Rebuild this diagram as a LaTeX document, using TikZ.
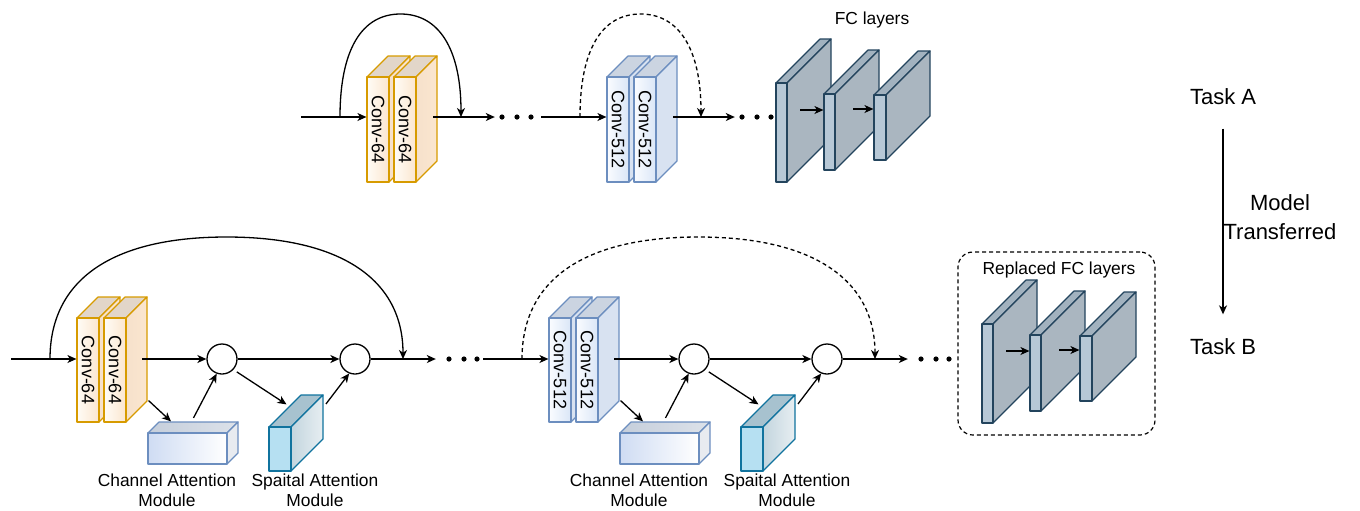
\documentclass[tikz,border=0pt]{standalone}
\usepackage{fontspec}
\setmainfont{Liberation Sans}
\usepackage{graphicx}
\usetikzlibrary{arrows.meta, calc, positioning}

\definecolor{orline}{HTML}{D79B00}
\definecolor{orlight}{HTML}{FFFCF6}
\definecolor{orfront}{HTML}{FBE6CF}
\definecolor{ortop}{HTML}{E2D6C9}
\definecolor{orside}{HTML}{F6E1CB}
\definecolor{blline}{HTML}{6C8EBF}
\definecolor{bllight}{HTML}{FAFCFF}
\definecolor{blfront}{HTML}{DAE6F7}
\definecolor{bltop}{HTML}{CBD4E1}
\definecolor{blside}{HTML}{D8E2F1}
\definecolor{camfront}{HTML}{CFDCF3}
\definecolor{camtop}{HTML}{C5CEDB}
\definecolor{camside}{HTML}{E8EBF0}
\definecolor{samline}{HTML}{10739E}
\definecolor{samfront}{HTML}{B6E0F2}
\definecolor{samtop}{HTML}{A7C2CF}
\definecolor{samside}{HTML}{C3D5DE}
\definecolor{fcline}{HTML}{23445D}
\definecolor{fcfront}{HTML}{B7C8D6}
\definecolor{fctop}{HTML}{A2B2BF}
\definecolor{fcside}{HTML}{AAB6C0}

\begin{document}
\begin{tikzpicture}[x=.5pt, y=-.5pt, line width=.6pt, line join=round,
    arr/.style={-{Stealth[length=4.5pt,width=4pt,inset=1.3pt]}, line width=.65pt},
    skipdash/.style={dash pattern=on 2pt off 1.5pt},
    dot/.style={circle, fill, inner sep=0pt, minimum size=2.6pt},
    mul/.style={circle, draw, fill=white, inner sep=0pt, minimum size=15pt, line width=.65pt},
    lbl/.style={font=\fontsize{8.7}{9.8}\selectfont, align=center, inner sep=0pt},
    task/.style={font=\fontsize{11}{14.5}\selectfont, align=center, inner sep=0pt},
    c64 front/.style={draw=orline, left color=orlight, right color=orfront},
    c64 top/.style={draw=orline, fill=ortop},
    c64 side/.style={draw=orline, left color=orside, right color=orfront},
    c512 front/.style={draw=blline, left color=bllight, right color=blfront},
    c512 top/.style={draw=blline, fill=bltop},
    c512 side/.style={draw=blline, fill=blside},
    cam front/.style={draw=blline, left color=camfront, right color=white},
    cam top/.style={draw=blline, left color=camtop, right color=camtop!60!white},
    cam side/.style={draw=blline, fill=camside},
    sam front/.style={draw=samline, fill=samfront},
    sam top/.style={draw=samline, fill=samtop},
    sam side/.style={draw=samline, left color=samside, right color=samside!40!white},
    fc front/.style={draw=fcline, fill=fcfront},
    fc top/.style={draw=fcline, fill=fctop},
    fc side/.style={draw=fcline, fill=fcside},
    % width, height, depth (px), colour set, text on the front face
    pics/slab/.style n args={5}{code={
      \path[#4 top]  (-#1/2,-#2/2) -- ++(#3,-#3) -- ++(#1,0) -- ++(-#3,#3) -- cycle;
      \path[#4 side] (#1/2,-#2/2) -- ++(#3,-#3) -- ++(0,#2) -- ++(-#3,#3) -- cycle;
      \node[#4 front, inner sep=0pt, minimum width=#1*.5pt, minimum height=#2*.5pt,
            font=\fontsize{9}{10}\selectfont] (-front) at (0,0) {#5};
    }}]
    \useasboundingbox (0,0) rectangle (1360,510);

    % Task A
    \foreach \k/\sx/\lab/\dsh in {1/0/64/solid, 2/240/512/skipdash}{
      \begin{scope}[shift={(\sx,0)}]
        \pic (T\k1) at (378,129.5) {slab={22}{105}{21}{c\lab}{\rotatebox{-90}{Conv-\lab}}};
        \pic (T\k2) at (405,129.5) {slab={22}{105}{21}{c\lab}{\rotatebox{-90}{Conv-\lab}}};
        \coordinate (inT\k) at (301,117);
        \coordinate (skT\k) at (340,117);
        \coordinate (skT\k e) at (461,117);
        \coordinate (outT\k) at (433,117);
        \foreach \j/\x in {1/502, 2/517, 3/531}
          \node[dot] (dT\k-\j) at (\x,117) {};
        \draw[arr] (inT\k) -- (inT\k -| T\k1-front.west);
        \draw[arr, \dsh] (skT\k) .. controls +(0,-67) and +(-39,0) .. ++(60.5,-103)
                         .. controls +(39,0) and +(0,-67) .. (skT\k e);
        \draw[arr] (outT\k) -- ([xshift=-2pt]dT\k-1.west);
      \end{scope}
    }

    % Task B
    \foreach \k/\sx/\lab/\dsh in {1/0/64/solid, 2/472/512/skipdash}{
      \begin{scope}[shift={(\sx,0)}]
        \pic (B\k1) at (88,370) {slab={22}{104}{21}{c\lab}{\rotatebox{-90}{Conv-\lab}}};
        \pic (B\k2) at (115,370) {slab={22}{104}{21}{c\lab}{\rotatebox{-90}{Conv-\lab}}};
        \pic (ca\k) at (187.5,448.5) {slab={79}{31}{11}{cam}{}};
        \pic (sa\k) at (280,449) {slab={22}{44}{32}{sam}{}};
        \node[mul] (m\k1) at (222,359) {};
        \node[mul] (m\k2) at (355,359) {};
        \foreach \j/\x in {1/449, 2/464, 3/477}
          \node[dot] (dB\k-\j) at (\x,359) {};
        \node[lbl] (caL\k) at (167,490) {Channel Attention\\Module};
        \node[lbl] (saL\k) at (315,490) {Spaital Attention\\Module};
        \coordinate (inB\k) at (11,359);
        \coordinate (skB\k) at (50,359);
        \coordinate (skB\k e) at (403,359);
        \coordinate (outB\k) at (142,359);
        \draw[arr] (inB\k) -- (inB\k -| B\k1-front.west);
        \draw[arr, \dsh] (skB\k) .. controls +(0,-79) and +(-115,0) .. ++(176.5,-122)
                         .. controls +(115,0) and +(0,-79) .. (skB\k e);
        \draw[arr] (outB\k) -- (m\k1);
        \draw[arr] (m\k1) -- (m\k2);
        \draw[arr] (m\k2) -- ([xshift=-5pt]dB\k-1.west);
        \draw[arr] ($(B\k2-front.south east)+(22,-22)$) -- ($(ca\k-front.north)+(-16.5,-11)$);
        \draw[arr] ($(ca\k-front.north)+(6,-14.5)$) -- (m\k1.250);
        \draw[arr, shorten <=2pt] (m\k1.-43) -- ($(sa\k-front.north)+(6.5,-22)$);
        \draw[arr] ($(sa\k-front.north)+(46,-22.5)$) -- (m\k2.248);
      \end{scope}
    }

    % fully connected layers
    \node[lbl] (fcT) at (872,20) {FC layers};
    \node[draw, skipdash, rounded corners=7.5pt, minimum width=98.5pt, minimum height=91.5pt] (rfc) at (1056.5,343.5) {};
    \node[lbl] (rfcT) at (1059,270) {Replaced FC layers};
    \foreach \s/\sx/\sy in {F/0/0, R/206/241}{
      \begin{scope}[shift={(\sx,\sy)}]
        \pic (\s1) at (781.5,132.5) {slab={11}{99}{44}{fc}{}};
        \pic (\s2) at (829.5,132) {slab={11}{76}{44}{fc}{}};
        \pic (\s3) at (880,127.5) {slab={12}{65}{44}{fc}{}};
        \coordinate (\s a) at (800,110);
        \coordinate (\s b) at (853,109);
        \draw[arr] (\s a) -- (\s a -| \s2-front.west);
        \draw[arr] (\s b) -- (\s b -| \s3-front.west);
      \end{scope}
    }

    % transfer
    \node[task] (taskA) at (1223,97) {Task A};
    \node[task] (taskB) at (1223,347) {Task B};
    \node[task] (mt) at (1280,217) {Model\\Transferred};
    \draw[arr, shorten <=11.5pt, shorten >=12pt] (taskA) -- (taskB);
\end{tikzpicture}
\end{document}
